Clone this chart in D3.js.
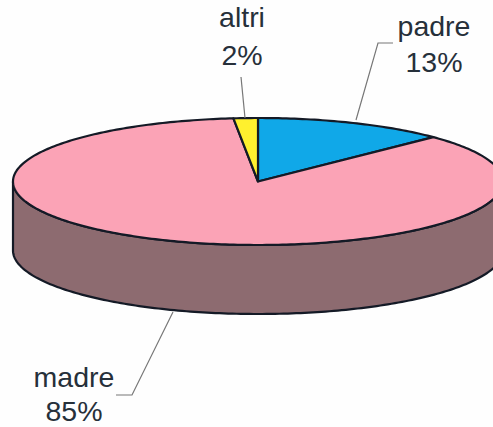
<!DOCTYPE html>
<html><head><meta charset="utf-8">
<script src="https://d3js.org/d3.v7.min.js"></script>
<style>html,body{margin:0;padding:0;background:#fefefe}svg{display:block}text{font-family:"Liberation Sans",Arial,sans-serif;font-size:28.5px;fill:#26303a;text-anchor:middle}</style>
</head><body><div id="c"></div>
<script>
const categories=["padre","madre","altri"];
const values=[12.7,85.7,1.6];
const labels=["13%","85%","2%"];
const topColors=["#10a8e8","#fba3b6","#fff02e"];
const sideColor="#8d6b70";
const W=493,H=427,cx=258,cy=181.5,rx=245,ry=63.5,depth=69;
const svg=d3.select("#c").append("svg").attr("width",W).attr("height",H);
const pie=d3.pie().sort(null).value(d=>d)(values);
const px=a=>cx+rx*Math.sin(a), py=a=>cy-ry*Math.cos(a);
const sideLine=d3.line().curve(d3.curveLinear);
const samples=d3.range(0,181).map(i=>Math.PI/2+i/180*Math.PI);
const side=samples.map(a=>[px(a),py(a)]).concat(samples.slice().reverse().map(a=>[px(a),py(a)+depth]));
svg.append("path").attr("d",sideLine(side)+"Z").attr("fill",sideColor).attr("stroke","#141a26").attr("stroke-width",2.2);
pie.forEach((d,i)=>{
  const n=Math.max(2,Math.ceil((d.endAngle-d.startAngle)*60));
  const pts=d3.range(n+1).map(k=>{const a=d.startAngle+(d.endAngle-d.startAngle)*k/n;return [px(a),py(a)];});
  svg.append("path").attr("d",sideLine([[cx,cy],...pts])+"Z").attr("fill",topColors[i]).attr("stroke","#141a26").attr("stroke-width",2.2).attr("stroke-linejoin","round");
});
const leaders=[[[356,120],[378,43],[393,43]],[[173,312],[132,395],[116,395]],[[245,118],[241,77]]];
leaders.forEach(l=>svg.append("path").attr("d",d3.line()(l)).attr("fill","none").attr("stroke","#777").attr("stroke-width",1.2));
const pos=[[434,36,72],[74,387,420.5],[242,27,65]];
categories.forEach((c,i)=>{
  svg.append("text").attr("x",pos[i][0]).attr("y",pos[i][1]).text(c);
  svg.append("text").attr("x",pos[i][0]).attr("y",pos[i][2]).text(labels[i]);
});
</script></body></html>
